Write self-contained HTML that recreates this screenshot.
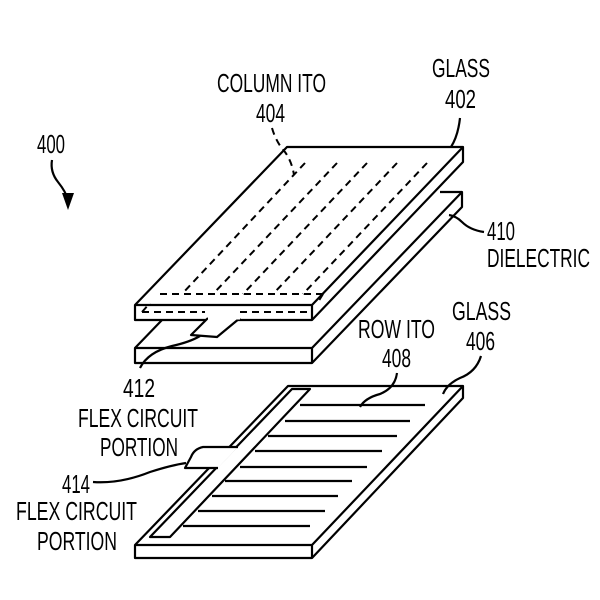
<!DOCTYPE html>
<html><head><style>html,body{margin:0;padding:0;background:#fff}svg{display:block}
text{font-family:"Liberation Sans",sans-serif;font-size:26px;fill:#000}</style></head>
<body>
<svg width="600" height="600" viewBox="0 0 600 600" xmlns="http://www.w3.org/2000/svg">
<g fill="none" stroke="#000" stroke-width="2.2" stroke-linejoin="round">
<!-- Bottom glass 406 -->
<path d="M288,386 L463,386 L463,398 L312,558 L135,558 L135,545 Z" fill="#fff"/>
<path d="M135,545 L312,545 L463,386 M312,545 L312,558"/>
<!-- strip -->
<path d="M292,389 L310,389 L170,537 L150,537 Z"/>
<!-- tab -->
<path d="M238,447 L203,447 Q194,449 191,457 L185,468 L218,468 Z" fill="#fff" stroke="none"/>
<path d="M238,447 L203,447 Q194,449 191,457 L185,468 L218,468"/>
<path d="M300,405 L425,405 M285,421 L410,421 M268,436 L397,436 M255,451 L382,451 M240,467 L367,467 M225,481 L352,481 M212,496 L338,496 M198,511 L325,511 M183,526 L310,526"/>
<!-- Dielectric 410 -->
<path d="M160,322 L462,192 L462,207 L312,363 L135,363 L135,348 Z" fill="#fff" stroke="none"/>
<path d="M135,348 L162,320 M135,348 L312,348 L462,192 L462,207 L312,363 L135,363 Z M312,348 L312,363"/>
<path d="M440,192 L462,192"/>
<!-- Top glass 402 -->
<path d="M287,147 L463,147 L463,162 L312,320 L135,320 L135,305 Z" fill="#fff"/>
<path d="M135,305 L312,305 L463,147 M312,305 L312,320"/>
<!-- flex tab 412 -->
<path d="M208,318 L191,335 L217,337 L240,318" fill="#fff"/>
<path d="M208,318 L240,318" stroke="#fff" stroke-width="3"/>
<!-- dashed column ITO -->
<g stroke-dasharray="7,5" stroke-width="2">
<path d="M142,312 L205,312 M240,312 L310,312"/>
<path d="M160,294 L323,294"/>
<path d="M305,163 L182,294 M337,163 L213,294 M367,163 L243,294 M397,163 L273,294 M427,163 L303,294"/>
<path d="M323,294 L318,302 M142,312 L150,303"/>
<path d="M272,128 Q276,142 285,152 Q292,162 294,175"/>
</g>
<!-- leaders -->
<path d="M460,118 Q458,136 451,147"/>
<path d="M484,232 Q470,230 462,222 Q456,216 449,215"/>
<path d="M481,356 Q476,372 460,378 Q447,384 443,394"/>
<path d="M397,373 Q395,388 380,394 Q365,398 360,407"/>
<path d="M140,368 Q148,352 172,346 Q190,342 200,336"/>
<path d="M93,482 Q120,484 150,472 Q172,465 186,463"/>
<path d="M52,160 Q50,172 58,182 Q66,192 68,200"/>
</g>
<path d="M62,193 L74,193 L68,210 Z" fill="#000"/>
<text x="217" y="92" textLength="109" lengthAdjust="spacingAndGlyphs">COLUMN ITO</text>
<text x="256" y="122" textLength="29" lengthAdjust="spacingAndGlyphs">404</text>
<text x="432" y="77" textLength="58" lengthAdjust="spacingAndGlyphs">GLASS</text>
<text x="445" y="108" textLength="31" lengthAdjust="spacingAndGlyphs">402</text>
<text x="37" y="153" textLength="28" lengthAdjust="spacingAndGlyphs">400</text>
<text x="487" y="240" textLength="28" lengthAdjust="spacingAndGlyphs">410</text>
<text x="487" y="267" textLength="103" lengthAdjust="spacingAndGlyphs">DIELECTRIC</text>
<text x="452" y="320" textLength="59" lengthAdjust="spacingAndGlyphs">GLASS</text>
<text x="466" y="350" textLength="29" lengthAdjust="spacingAndGlyphs">406</text>
<text x="358" y="338" textLength="77" lengthAdjust="spacingAndGlyphs">ROW ITO</text>
<text x="382" y="367" textLength="29" lengthAdjust="spacingAndGlyphs">408</text>
<text x="123" y="397" textLength="32" lengthAdjust="spacingAndGlyphs">412</text>
<text x="78" y="427" textLength="120" lengthAdjust="spacingAndGlyphs">FLEX CIRCUIT</text>
<text x="100" y="456" textLength="78" lengthAdjust="spacingAndGlyphs">PORTION</text>
<text x="62" y="493" textLength="28" lengthAdjust="spacingAndGlyphs">414</text>
<text x="16" y="520" textLength="121" lengthAdjust="spacingAndGlyphs">FLEX CIRCUIT</text>
<text x="37" y="550" textLength="80" lengthAdjust="spacingAndGlyphs">PORTION</text>
</svg>
</body></html>
